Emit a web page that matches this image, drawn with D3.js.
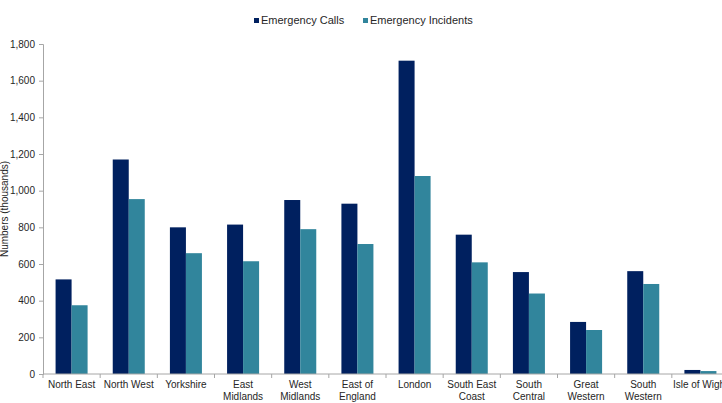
<!DOCTYPE html>
<html>
<head>
<meta charset="utf-8">
<script src="https://cdn.jsdelivr.net/npm/d3@7"></script>
<style>
  body { margin: 0; background: #fff; overflow: hidden; }
  svg { display: block; font-family: "Liberation Sans", Arial, sans-serif; }
</style>
</head>
<body>
<div id="chart"></div>
<script>
// regions (label lines) and the two series, in thousands
const regions = [
    ["North East"], ["North West"], ["Yorkshire"], ["East", "Midlands"], ["West", "Midlands"],
    ["East of", "England"], ["London"], ["South East", "Coast"], ["South", "Central"],
    ["Great", "Western"], ["South", "Western"], ["Isle of Wight"]
];
const emergencyCalls = [516, 1170, 800, 815, 949, 929, 1709, 760, 556, 284, 561, 22];
const emergencyIncidents = [375, 954, 659, 615, 790, 709, 1080, 609, 439, 240, 491, 16];
const yTicks = [0, 200, 400, 600, 800, 1000, 1200, 1400, 1600, 1800];
const seriesNames = ["Emergency Calls", "Emergency Incidents"];
const colors = ["#00205f", "#31859c"];

const W = 722, H = 403;
const plotLeft = 43, plotRight = 729, plotTop = 44, plotBottom = 374;

const data = regions.map((r, i) => ({
    key: r.join(" "),
    lines: r,
    values: [emergencyCalls[i], emergencyIncidents[i]]
}));

const svg = d3.select("#chart").append("svg")
    .attr("width", W)
    .attr("height", H);

const x0 = d3.scaleBand()
    .domain(data.map(d => d.key))
    .range([plotLeft, plotRight])
    .paddingInner(0.44)
    .paddingOuter(0.22);

const x1 = d3.scaleBand()
    .domain([0, 1])
    .range([0, x0.bandwidth()]);

const y = d3.scaleLinear()
    .domain([0, 1800])
    .range([plotBottom, plotTop]);

// y axis
const yAxis = svg.append("g")
    .attr("transform", `translate(${plotLeft},0)`)
    .call(d3.axisLeft(y).tickValues(yTicks).tickSize(4).tickPadding(4).tickFormat(d3.format(",")));
yAxis.select(".domain").attr("stroke", "#a6a6a6");
yAxis.selectAll(".tick line").attr("stroke", "#a6a6a6");
yAxis.selectAll("text").attr("fill", "#262626").style("font-size", "10px");

svg.append("text")
    .attr("transform", "rotate(-90)")
    .attr("x", -(plotTop + plotBottom) / 2)
    .attr("y", 8)
    .attr("text-anchor", "middle")
    .attr("fill", "#262626")
    .style("font-size", "10px")
    .text("Numbers (thousands)");

// bars
const groups = svg.selectAll(".region")
    .data(data)
    .enter().append("g")
    .attr("class", "region")
    .attr("transform", d => `translate(${x0(d.key)},0)`);

groups.selectAll("rect")
    .data(d => d.values.map((v, i) => ({ v, i })))
    .enter().append("rect")
    .attr("x", d => x1(d.i))
    .attr("y", d => y(d.v))
    .attr("width", x1.bandwidth())
    .attr("height", d => plotBottom - y(d.v))
    .attr("fill", d => colors[d.i]);

// x axis line with ticks between categories
svg.append("line")
    .attr("x1", plotLeft).attr("x2", plotRight)
    .attr("y1", plotBottom).attr("y2", plotBottom)
    .attr("stroke", "#a6a6a6");

const step = x0.step();
svg.selectAll(".xtick")
    .data(d3.range(regions.length + 1))
    .enter().append("line")
    .attr("x1", i => plotLeft + i * step)
    .attr("x2", i => plotLeft + i * step)
    .attr("y1", plotBottom)
    .attr("y2", plotBottom + 4)
    .attr("stroke", "#a6a6a6");

const labels = svg.selectAll(".xlabel")
    .data(data)
    .enter().append("text")
    .attr("text-anchor", "middle")
    .attr("fill", "#262626")
    .style("font-size", "10px")
    .attr("x", d => x0(d.key) + x0.bandwidth() / 2)
    .attr("y", plotBottom + 14);

labels.selectAll("tspan")
    .data(d => d.lines)
    .enter().append("tspan")
    .attr("x", function () { return d3.select(this.parentNode).attr("x"); })
    .attr("dy", (d, i) => i === 0 ? 0 : 12)
    .text(d => d);

// legend
const legend = svg.append("g").attr("transform", "translate(254,21)");
const legendX = [0, 109];
seriesNames.forEach((name, i) => {
    legend.append("rect")
        .attr("x", legendX[i])
        .attr("y", -3)
        .attr("width", 5)
        .attr("height", 5)
        .attr("fill", colors[i]);
    legend.append("text")
        .attr("x", legendX[i] + 7)
        .attr("y", 0)
        .attr("dominant-baseline", "middle")
        .attr("fill", "#262626")
        .style("font-size", "11px")
        .text(name);
});
</script>
</body>
</html>
